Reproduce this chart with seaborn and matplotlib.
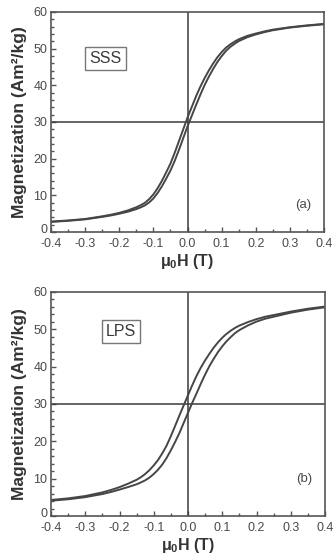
import numpy as np
import pandas as pd
import matplotlib
matplotlib.use("Agg")
import matplotlib.pyplot as plt
import matplotlib.transforms as mtransforms
import seaborn as sns
from matplotlib.ticker import MultipleLocator

# ---- data ----
field = [-0.4, -0.35, -0.3, -0.25, -0.225, -0.2, -0.175, -0.15, -0.1375, -0.125, -0.1125,
         -0.1, -0.0875, -0.075, -0.0625, -0.05, -0.0375, -0.025, -0.0125, 0.0,
         0.0125, 0.025, 0.0375, 0.05, 0.0625, 0.075, 0.0875, 0.1, 0.1125, 0.125,
         0.1375, 0.15, 0.175, 0.2, 0.225, 0.25, 0.3, 0.35, 0.4]

sss_upper = [2.85, 3.15, 3.55, 4.28, 4.7, 5.22, 5.88, 6.75, 7.3, 7.95, 8.95,
             10.25, 11.95, 13.95, 16.25, 18.65, 21.6, 24.8, 28.0, 31.2,
             34.1, 37.0, 39.6, 41.95, 44.05, 45.95, 47.65, 49.05, 50.25, 51.15,
             51.9, 52.55, 53.48, 54.12, 54.7, 55.18, 55.85, 56.35, 56.75]
sss_lower = [2.75, 3.05, 3.45, 4.12, 4.5, 4.98, 5.52, 6.25, 6.7, 7.25, 8.05,
             9.15, 10.65, 12.45, 14.55, 16.75, 19.4, 22.4, 25.6, 28.8,
             31.7, 34.6, 37.4, 40.05, 42.35, 44.45, 46.35, 47.95, 49.35, 50.45,
             51.3, 52.05, 53.12, 53.88, 54.5, 55.02, 55.75, 56.25, 56.65]

lps_upper = [4.3, 4.72, 5.35, 6.32, 6.97, 7.73, 8.65, 9.7, 10.4, 11.25, 12.3,
             13.55, 15.0, 16.8, 18.85, 21.4, 24.15, 26.95, 29.65, 32.35,
             35.05, 37.55, 39.75, 41.7, 43.45, 45.1, 46.5, 47.75, 48.8, 49.65,
             50.4, 51.0, 51.95, 52.73, 53.37, 53.82, 54.75, 55.52, 56.1]
lps_lower = [4.1, 4.48, 5.05, 5.88, 6.43, 7.07, 7.75, 8.5, 9.0, 9.55, 10.3,
             11.25, 12.4, 13.8, 15.55, 17.6, 19.85, 22.25, 24.95, 27.65,
             30.35, 32.85, 35.45, 37.9, 40.15, 42.1, 43.9, 45.45, 46.8, 47.95,
             49.0, 49.8, 51.05, 52.07, 52.83, 53.38, 54.45, 55.28, 55.9]

x_ticks = [-0.4, -0.3, -0.2, -0.1, 0.0, 0.1, 0.2, 0.3, 0.4]
x_ticklabels = ["-0.4", "-0.3", "-0.2", "-0.1", "0.0", "0.1", "0.2", "0.3", "0.4"]
y_ticks = [0, 10, 20, 30, 40, 50, 60]
sample_names = ["SSS", "LPS"]
panel_tags = ["(a)", "(b)"]

# ---- style ----
sns.set_style("ticks")
plt.rcParams["font.family"] = ["Liberation Sans", "DejaVu Sans"]
plt.rcParams["mathtext.fontset"] = "custom"
plt.rcParams["mathtext.rm"] = "Liberation Sans"
plt.rcParams["mathtext.bf"] = "Liberation Sans:bold"

W, H = 334, 556
fig = plt.figure(figsize=(W / 100, H / 100), dpi=100)
fig.patch.set_facecolor("white")

ax_rects = [
    (51 / W, 1 - 232 / H, 273 / W, 220 / H),
    (51 / W, 1 - 516 / H, 274 / W, 224 / H),
]
curves = [(sss_upper, sss_lower), (lps_upper, lps_lower)]
box_pos = [(-0.24, 47.3), (-0.195, 49.5)]
tag_pos = [(0.338, 7.4), (0.338, 9.9)]

line_col = "#464646"
axis_col = "#555555"
text_col = "#4a4a4a"

for i, rect in enumerate(ax_rects):
    ax = fig.add_axes(rect)
    up, lo = curves[i]
    df_up = pd.DataFrame({"H": field, "M": up})
    df_lo = pd.DataFrame({"H": field, "M": lo})
    sns.lineplot(data=df_up, x="H", y="M", ax=ax, color=line_col, lw=1.4, sort=False)
    sns.lineplot(data=df_lo, x="H", y="M", ax=ax, color=line_col, lw=1.4, sort=False)
    ax.axhline(30, color="#3a3a3a", lw=1.1, zorder=1)
    ax.axvline(0.0, color="#3a3a3a", lw=1.1, zorder=1)

    ax.set_xlim(-0.4, 0.4)
    ax.set_ylim(0, 60)
    ax.set_xticks(x_ticks)
    ax.set_xticklabels(x_ticklabels)
    ax.set_yticks(y_ticks)
    ax.xaxis.set_minor_locator(MultipleLocator(0.05))
    ax.yaxis.set_minor_locator(MultipleLocator(2))
    ax.tick_params(which="both", direction="in", colors=axis_col, labelcolor=text_col,
                   labelsize=9, top=False, right=False, width=1.0)
    ax.tick_params(which="major", length=3.5)
    ax.tick_params(axis="x", which="major", pad=4)
    ax.tick_params(axis="y", which="major", pad=2.5)
    ax.tick_params(which="minor", length=2)
    for sp in ax.spines.values():
        sp.set_visible(True)
        sp.set_color(axis_col)
        sp.set_linewidth(1.2)

    # lift the "0" label slightly so it clears the "-0.4" label below it
    zero_lbl = ax.get_yticklabels()[0]
    zero_lbl.set_transform(zero_lbl.get_transform() +
                           mtransforms.ScaledTranslation(0, 2.5 / 72, fig.dpi_scale_trans))

    ax.set_xlabel(r"$\mathbf{\mu_0}$H (T)", fontsize=11.5, fontweight="bold",
                  color="#333333", labelpad=2)
    ax.set_ylabel("Magnetization (Am²/kg)", fontsize=12.5, fontweight="bold",
                  color="#333333", labelpad=5)

    bx, by = box_pos[i]
    ax.text(bx, by, sample_names[i], fontsize=11.5, color="#3a3a3a", ha="center", va="center",
            bbox=dict(boxstyle="square,pad=0.25", fc="white", ec="#777777", lw=1.0))
    tx, ty = tag_pos[i]
    ax.text(tx, ty, panel_tags[i], fontsize=9.5, color=text_col, ha="center", va="center")

fig.savefig("out.png", dpi=100, facecolor="white")
